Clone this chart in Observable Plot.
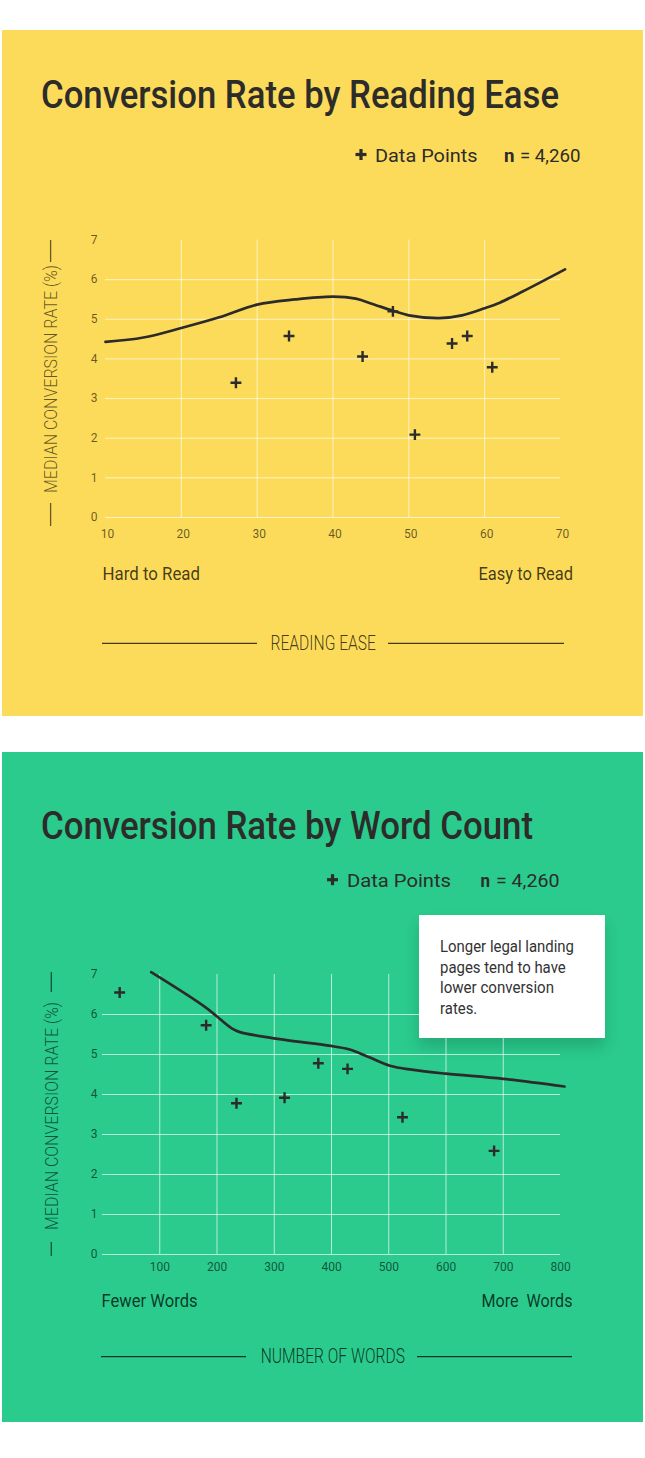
<!DOCTYPE html>
<html>
<head>
<meta charset="utf-8">
<script src="https://cdn.jsdelivr.net/npm/d3@7"></script>
<script src="https://cdn.jsdelivr.net/npm/@observablehq/plot@0.6"></script>
<style>
html, body { margin: 0; padding: 0; background: #fff; }
#page { position: relative; width: 645px; height: 1458px; overflow: hidden; font-family: Roboto, sans-serif; }
.panel { position: absolute; left: 2px; width: 641px; }
.chart { position: absolute; left: 0; width: 645px; }
#overlay { position: absolute; left: 0; top: 0; pointer-events: none; }
#note { position: absolute; left: 419px; top: 915px; width: 186px; height: 123px; background: #fff; box-shadow: 0 9px 14px rgba(0,0,0,0.16); }
</style>
</head>
<body>
<div id="page">
  <div class="panel" style="top:30px;height:686px;background:#FDDB5A"></div>
  <div class="panel" style="top:752px;height:670px;background:#2ACB8C"></div>
  <div id="chart1" class="chart" style="top:220px"></div>
  <div id="note"></div>
  <div id="chart2" class="chart" style="top:940px"></div>
  <svg id="overlay" width="645" height="1458"></svg>
</div>
<script>
// ---------- data: reading ease ----------
const easeScore = [27.2, 34.2, 43.9, 47.9, 50.8, 55.7, 57.7, 61.0];
const easeRate  = [3.40, 4.58, 4.06, 5.20, 2.09, 4.39, 4.58, 3.79];
const easeTrendX = [10, 15, 20, 25, 30, 35, 40, 43, 45, 48, 50, 54, 57, 60, 62, 65, 70.6];
const easeTrendY = [4.43, 4.54, 4.78, 5.05, 5.37, 5.50, 5.57, 5.52, 5.40, 5.21, 5.10, 5.03, 5.10, 5.28, 5.42, 5.70, 6.26];
const easeTicks = [10, 20, 30, 40, 50, 60, 70];
const easeGrid = [20, 30, 40, 50, 60];

// ---------- data: word count ----------
const wordCount = [30, 181, 234, 318, 377, 428, 524, 684];
const wordRate  = [6.55, 5.73, 3.78, 3.92, 4.78, 4.64, 3.43, 2.59];
const wordTrendX = [85, 180, 225, 240, 316, 395, 430, 466, 502, 540, 600, 700, 807];
const wordTrendY = [7.06, 6.18, 5.66, 5.56, 5.37, 5.22, 5.13, 4.93, 4.72, 4.62, 4.52, 4.39, 4.20];
const wordTicks = [100, 200, 300, 400, 500, 600, 700, 800];
const wordGrid = [100, 200, 300, 400, 500, 600, 700];

const rateTicks = [0, 1, 2, 3, 4, 5, 6, 7];
const rateGrid = [0, 1, 2, 3, 4, 5, 6];

const ink = "#2b2b2b";
const soft = "rgba(0,0,0,0.6)";

function chart(o) {
  const pts = o.xs.map((x, i) => ({x, y: o.ys[i]}));
  const trend = o.tx.map((x, i) => ({x, y: o.ty[i]}));
  return Plot.plot({
    width: 645, height: o.height,
    marginLeft: o.ml, marginRight: 85, marginTop: o.mt, marginBottom: o.mb,
    style: {background: "transparent", fontFamily: "Roboto, sans-serif", overflow: "visible"},
    x: {domain: o.xdomain},
    y: {domain: [0, 7]},
    marks: [
      Plot.gridX(o.grid, {stroke: "#fff", strokeOpacity: 0.65, strokeWidth: 1}),
      Plot.gridY(rateGrid, {stroke: "#fff", strokeOpacity: 0.65, strokeWidth: 1}),
      Plot.axisX(o.ticks, {tickSize: 0, tickPadding: o.xpad, fontSize: 12, color: soft, label: null, dx: o.xdx}),
      Plot.axisY(rateTicks, {tickSize: 0, tickPadding: o.ypad, fontSize: 12, color: soft, label: null}),
      Plot.line(trend, {x: "x", y: "y", curve: "catmull-rom", stroke: ink, strokeWidth: 2.7}),
      Plot.dot(pts, {x: "x", y: "y", symbol: "plus", r: 3.6, stroke: ink, strokeWidth: 2.4})
    ]
  });
}

document.getElementById("chart1").append(chart({
  height: 320, ml: 105, mt: 19.5, mb: 23, xdomain: [10, 70],
  xs: easeScore, ys: easeRate, tx: easeTrendX, ty: easeTrendY,
  ticks: easeTicks, grid: easeGrid, xpad: 12, ypad: 8, xdx: 2
}));
document.getElementById("chart2").append(chart({
  height: 340, ml: 102, mt: 34, mb: 26, xdomain: [0, 800],
  xs: wordCount, ys: wordRate, tx: wordTrendX, ty: wordTrendY,
  ticks: wordTicks, grid: wordGrid, xpad: 8, ypad: 5, xdx: 0
}));

// ---------- text overlay ----------
const svg = d3.select("#overlay");
function txt(s, x, y, o) {
  const t = svg.append("text").attr("x", x).attr("y", y).text(s)
    .attr("font-family", "Roboto, sans-serif")
    .attr("font-size", o.size).attr("font-weight", o.weight || 400)
    .attr("fill", o.fill || ink).attr("text-anchor", o.anchor || "start")
    .style("white-space", "pre");
  if (o.w) t.attr("textLength", o.w).attr("lengthAdjust", "spacingAndGlyphs");
  if (o.transform) t.attr("transform", o.transform);
  return t;
}
function rule(x1, y1, x2, y2, stroke, w) {
  svg.append("line").attr("x1", x1).attr("y1", y1).attr("x2", x2).attr("y2", y2)
    .attr("stroke", stroke).attr("stroke-width", w || 1.3);
}
function plus(cx, cy, col) {
  rule(cx - 5.5, cy, cx + 5.5, cy, col, 3.2);
  rule(cx, cy - 5.5, cx, cy + 5.5, col, 3.2);
}
const titleCol = "#2c2c2a";
const labCol = "rgba(0,0,0,0.74)";

// Panel 1
txt("Conversion Rate by Reading Ease", 41, 108, {size: 38, weight: 500, fill: titleCol, w: 518});
plus(361, 154.5, titleCol);
txt("Data Points", 375, 161.7, {size: 19, fill: titleCol, w: 102.5});
txt("n", 504, 161.7, {size: 19, weight: 700, fill: titleCol, w: 10.5});
txt("= 4,260", 520, 161.7, {size: 19, fill: titleCol, w: 60.5});
txt("MEDIAN CONVERSION RATE (%)", 0, 0, {size: 18.5, weight: 300, fill: soft, anchor: "middle", w: 228, transform: "translate(57.3,379) rotate(-90)"});
rule(50.6, 240, 50.6, 262, soft, 1.3);
rule(50.6, 503, 50.6, 526, soft, 1.3);
txt("Hard to Read", 102.5, 580, {size: 18.5, fill: labCol, w: 97.5});
txt("Easy to Read", 573, 580, {size: 18.5, fill: labCol, w: 94.5, anchor: "end"});
txt("READING EASE", 270.5, 650, {size: 19.5, weight: 300, fill: labCol, w: 105.5});
rule(102, 643.3, 257, 643.3, labCol, 1.3);
rule(388, 643.3, 564, 643.3, labCol, 1.3);

// Panel 2
txt("Conversion Rate by Word Count", 41, 839, {size: 38, weight: 500, fill: titleCol, w: 492});
plus(332.5, 879.7, titleCol);
txt("Data Points", 347, 887, {size: 19, fill: titleCol, w: 104});
txt("n", 480.5, 887, {size: 19, weight: 700, fill: titleCol, w: 9.5});
txt("= 4,260", 496, 887, {size: 19, fill: titleCol, w: 63.5});
txt("MEDIAN CONVERSION RATE (%)", 0, 0, {size: 18.5, weight: 300, fill: soft, anchor: "middle", w: 228, transform: "translate(58,1116) rotate(-90)"});
rule(51.3, 972, 51.3, 992, soft, 1.3);
rule(51.3, 1242, 51.3, 1256, soft, 1.3);

const noteCol = "#333";
txt("Longer legal landing", 440, 952.3, {size: 17, fill: noteCol, w: 134});
txt("pages tend to have", 440, 972.9, {size: 17, fill: noteCol, w: 125.7});
txt("lower conversion", 440, 993.4, {size: 17, fill: noteCol, w: 114});
txt("rates.", 440, 1014, {size: 17, fill: noteCol, w: 37.3});

txt("Fewer Words", 101.6, 1306.7, {size: 18.5, fill: labCol, w: 96});
txt("More  Words", 572.5, 1306.7, {size: 18.5, fill: labCol, w: 91, anchor: "end"});
txt("NUMBER OF WORDS", 260.7, 1362.7, {size: 19.5, weight: 300, fill: labCol, w: 144.3});
rule(101, 1356.7, 246, 1356.7, labCol, 1.3);
rule(417, 1356.7, 572, 1356.7, labCol, 1.3);
</script>
</body>
</html>
